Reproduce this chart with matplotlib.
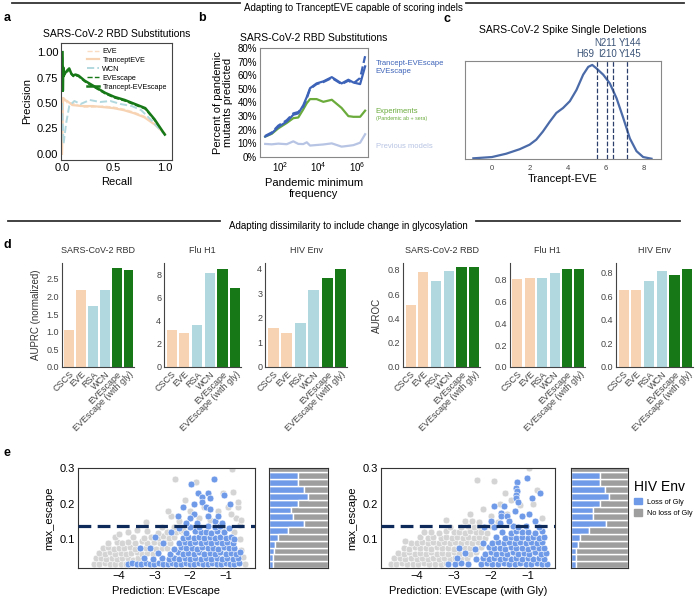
import numpy as np
import matplotlib.pyplot as plt
from matplotlib.patches import Patch

plt.rcParams['font.family'] = ['Liberation Sans', 'DejaVu Sans']
plt.rcParams['axes.linewidth'] = 0.8

W, H = 697, 603

# ---- panel a: precision / recall ----
rec_eve = [0.0, 0.01, 0.02, 0.05, 0.1, 0.2, 0.3, 0.4, 0.5, 0.6, 0.7, 0.8, 0.9, 1.0]
prec_eve = [0.0, 0.5, 0.56, 0.5, 0.5, 0.46, 0.46, 0.47, 0.46, 0.44, 0.41, 0.37, 0.3, 0.2]
prec_tev = [0.0, 0.55, 0.53, 0.52, 0.48, 0.47, 0.47, 0.46, 0.45, 0.43, 0.40, 0.36, 0.29, 0.2]
rec_wcn = [0.0, 0.015, 0.04, 0.07, 0.12, 0.18, 0.27, 0.37, 0.47, 0.57, 0.68, 0.77, 0.87, 0.97, 1.0]
prec_wcn = [0.5, 0.1, 0.3, 0.47, 0.52, 0.49, 0.53, 0.51, 0.52, 0.49, 0.47, 0.43, 0.33, 0.22, 0.19]
rec_esc = [0.005, 0.008, 0.012, 0.02, 0.035, 0.05, 0.07, 0.09, 0.11, 0.13, 0.16, 0.22,
           0.32, 0.42, 0.51, 0.61, 0.71, 0.81, 0.9, 1.0]
prec_tesc = [1.0, 0.62, 0.85, 0.78, 0.8, 0.82, 0.84, 0.79, 0.77, 0.78, 0.77, 0.72,
             0.66, 0.6, 0.56, 0.53, 0.49, 0.45, 0.34, 0.19]
prec_esc = [0.95, 0.6, 0.8, 0.76, 0.8, 0.8, 0.83, 0.78, 0.76, 0.77, 0.76, 0.71,
            0.65, 0.59, 0.55, 0.52, 0.48, 0.44, 0.33, 0.19]

# ---- panel b: pandemic mutants predicted ----
freq = [17, 37, 81, 224, 490, 890, 1620, 2450, 3630, 7940, 17800, 49000,
        158000, 355000, 646000, 1450000, 2630000]
pct_tesc = [15, 17.4, 22, 26, 31, 32, 38, 44, 50.5, 54, 55.5, 58.6, 54, 56.7, 54.7, 53.5, 66.5]
pct_esc = [15.5, 18, 23, 27, 32, 33, 37, 43, 50, 53.5, 55, 58, 53.5, 56, 54, 58, 74]
pct_exp = [15, 17, 21, 25, 28.5, 29, 35, 39.5, 42.5, 42.5, 40.5, 42, 36, 30, 29.5, 29.5, 34]
pct_prev = [9.6, 9.3, 9.8, 9.4, 11.5, 9.6, 9.5, 10.8, 8.4, 8.8, 9.2, 10, 7.6, 8.2, 8.7, 10.5, 16.7]

# ---- panel c: single deletion score density ----
kde_x = [-0.98, 0.0, 0.75, 1.46, 1.98, 2.33, 2.68, 3.04, 3.39, 3.74, 4.1, 4.45, 4.8,
         5.07, 5.28, 5.5, 5.86, 6.21, 6.56, 6.91, 7.26, 7.61, 7.96, 8.4]
kde_y = [0.007, 0.02, 0.054, 0.10, 0.146, 0.197, 0.28, 0.38, 0.47, 0.52, 0.59, 0.705, 0.86,
         0.94, 0.96, 0.925, 0.86, 0.77, 0.62, 0.42, 0.21, 0.08, 0.02, 0.003]
del_pos = [5.51, 6.04, 6.35, 7.12]

# ---- panel d: bar metrics ----
methods = ['CSCS', 'EVE', 'RSA', 'WCN', 'EVEscape', 'EVEscape (with gly)']
viruses = ['SARS-CoV-2 RBD', 'Flu H1', 'HIV Env']
auprc = [[1.05, 2.18, 1.72, 2.18, 2.8, 2.75],
         [3.2, 2.95, 3.6, 8.1, 8.45, 6.85],
         [1.6, 1.4, 1.78, 3.12, 3.62, 4.0]]
auroc = [[0.51, 0.78, 0.71, 0.79, 0.82, 0.82],
         [0.80, 0.81, 0.81, 0.86, 0.89, 0.89],
         [0.65, 0.65, 0.73, 0.81, 0.78, 0.83]]

# ---- panel e: HIV Env scatter (x = prediction, y = max_escape) ----
e1_gray = [
    (-4.7, .03), (-4.55, .028), (-4.4, .031), (-4.25, .029), (-4.1, .03), (-3.95, .028), (-3.8, .03),
    (-4.65, .045), (-4.5, .047), (-4.35, .044), (-4.2, .046), (-4.05, .043), (-3.9, .047),
    (-3.75, .045), (-3.6, .042), (-3.45, .046), (-3.3, .044),
    (-4.55, .06), (-4.4, .058), (-4.25, .062), (-4.1, .059), (-3.95, .061), (-3.8, .057), (-3.65, .06),
    (-3.5, .063), (-3.35, .058), (-3.2, .061), (-3.05, .059), (-2.9, .062),
    (-4.45, .075), (-4.3, .077), (-4.15, .073), (-4.0, .076), (-3.85, .074), (-3.7, .078),
    (-3.55, .073), (-3.4, .076), (-3.25, .074), (-3.1, .077), (-2.95, .073), (-2.8, .076), (-2.65, .074),
    (-4.3, .09), (-4.05, .092), (-3.9, .088), (-3.75, .091), (-3.55, .089), (-3.35, .093), (-3.2, .088),
    (-3.0, .091), (-2.85, .089), (-2.7, .092), (-2.55, .088),
    (-4.1, .105), (-3.6, .107), (-3.3, .103), (-3.1, .106), (-2.9, .104), (-2.75, .108),
    (-2.6, .103), (-2.45, .106),
    (-3.75, .12), (-3.2, .122), (-2.9, .118), (-2.65, .121), (-2.4, .119), (-2.25, .122),
    (-4.0, .115), (-3.5, .125), (-2.8, .135),
    (-0.45, .03), (-0.5, .05), (-0.55, .07), (-0.6, .1), (-0.75, .12), (-0.6, .14), (-0.7, .16),
    (-0.55, .155), (-0.85, .17), (-0.65, .19), (-0.93, .19), (-0.64, .205), (-0.78, .233),
    (-1.06, .229), (-0.83, .299),
    (-2.42, .269), (-1.83, .262), (-2.14, .21), (-2.52, .166), (-2.61, .18), (-3.24, .149),
    (-2.3, .15), (-2.0, .18), (-1.6, .19), (-1.2, .18), (-1.45, .155), (-1.75, .16),
    (-2.45, .135), (-2.2, .125), (-1.1, .13), (-0.9, .1), (-1.3, .09)]
e1_blue = [
    (-3.75, .03), (-3.62, .031), (-3.5, .03), (-3.38, .03), (-3.25, .031), (-3.12, .03), (-3.0, .03),
    (-2.88, .031), (-2.75, .03), (-2.62, .03), (-2.5, .031), (-2.38, .03), (-2.25, .03), (-2.12, .031),
    (-2.0, .03), (-1.88, .03), (-1.75, .031), (-1.62, .03), (-1.5, .03), (-1.38, .031), (-1.25, .03),
    (-1.12, .03), (-1.0, .031), (-0.88, .03), (-0.75, .03), (-0.62, .031),
    (-3.3, .045), (-3.05, .044), (-2.8, .046), (-2.6, .043), (-2.45, .047), (-2.3, .044), (-2.15, .046),
    (-2.0, .043), (-1.85, .047), (-1.7, .044), (-1.55, .046), (-1.4, .043), (-1.25, .047), (-1.1, .044),
    (-0.95, .046), (-0.8, .044), (-0.65, .046),
    (-2.9, .06), (-2.55, .058), (-2.35, .062), (-2.2, .059), (-2.05, .061), (-1.9, .058), (-1.75, .062),
    (-1.6, .059), (-1.45, .061), (-1.3, .058), (-1.15, .062), (-1.0, .059), (-0.85, .061), (-0.7, .058),
    (-0.6, .062),
    (-3.13, .075), (-2.45, .073), (-2.25, .077), (-2.1, .074), (-1.95, .076), (-1.8, .073),
    (-1.65, .077), (-1.5, .074), (-1.35, .076), (-1.2, .073), (-1.05, .077), (-0.9, .074), (-0.75, .076),
    (-2.76, .09), (-2.3, .088), (-2.15, .092), (-2.0, .089), (-1.85, .091), (-1.7, .088), (-1.55, .092),
    (-1.4, .089), (-1.25, .091), (-1.1, .088), (-0.95, .092), (-0.8, .089),
    (-2.98, .105), (-2.2, .103), (-2.05, .107), (-1.9, .104), (-1.75, .106), (-1.6, .103),
    (-1.45, .107), (-1.3, .104), (-1.15, .106), (-1.0, .103), (-0.85, .107),
    (-2.52, .12), (-2.1, .118), (-1.85, .122), (-1.7, .119), (-1.55, .121), (-1.4, .118), (-1.25, .122),
    (-1.05, .119),
    (-2.0, .135), (-1.75, .133), (-1.5, .137), (-1.3, .134), (-1.15, .136),
    (-3.41, .075), (-1.32, .271), (-1.97, .257), (-1.78, .229), (-1.67, .22), (-1.5, .23),
    (-1.45, .215), (-1.67, .205), (-1.54, .19), (-1.44, .185), (-1.03, .226), (-0.87, .2),
    (-2.19, .19), (-1.9, .2), (-1.9, .17), (-2.33, .165), (-2.0, .16), (-2.1, .145), (-1.8, .145),
    (-1.5, .165), (-1.3, .15), (-1.1, .145), (-1.2, .165), (-2.3, .13), (-0.9, .13), (-0.75, .1)]
e2_gray = [
    (-4.7, .03), (-4.55, .028), (-4.4, .031), (-4.25, .029), (-4.1, .03), (-3.95, .028), (-3.8, .031),
    (-3.65, .029), (-3.5, .03), (-3.35, .028), (-3.2, .031),
    (-4.6, .045), (-4.45, .047), (-4.3, .044), (-4.15, .046), (-4.0, .043), (-3.85, .047),
    (-3.7, .044), (-3.55, .046), (-3.4, .043), (-3.25, .047), (-3.1, .044), (-2.95, .046),
    (-2.8, .044), (-2.65, .046),
    (-4.5, .06), (-4.35, .058), (-4.2, .062), (-4.05, .059), (-3.9, .061), (-3.75, .058), (-3.6, .062),
    (-3.45, .059), (-3.3, .061), (-3.15, .058), (-3.0, .062), (-2.85, .059), (-2.7, .061), (-2.55, .058),
    (-2.4, .062),
    (-4.35, .075), (-4.2, .073), (-4.05, .077), (-3.9, .074), (-3.75, .076), (-3.6, .073),
    (-3.45, .077), (-3.3, .074), (-3.15, .076), (-3.0, .073), (-2.85, .077), (-2.7, .074),
    (-2.55, .076), (-2.4, .073), (-2.25, .077),
    (-4.15, .09), (-4.0, .088), (-3.85, .092), (-3.7, .089), (-3.55, .091), (-3.4, .088), (-3.25, .092),
    (-3.1, .089), (-2.95, .091), (-2.8, .088), (-2.65, .092), (-2.5, .089), (-2.35, .091), (-2.2, .088),
    (-3.9, .105), (-3.7, .103), (-3.55, .107), (-3.35, .104), (-3.2, .106), (-3.05, .103),
    (-2.9, .107), (-2.75, .104), (-2.6, .106), (-2.45, .103), (-2.3, .107), (-2.15, .104),
    (-3.6, .12), (-3.4, .118), (-3.2, .122), (-3.0, .119), (-2.85, .121), (-2.7, .118), (-2.55, .122),
    (-2.4, .119), (-2.25, .121), (-2.1, .118),
    (-3.1, .135), (-2.8, .133), (-2.6, .137), (-2.45, .134), (-2.3, .136), (-2.15, .133), (-2.0, .137),
    (-2.7, .15), (-2.5, .152), (-2.3, .148), (-2.0, .151), (-1.8, .149),
    (-2.37, .268), (-1.91, .263), (-3.2, .155), (-2.55, .17), (-2.2, .185), (-1.75, .2),
    (-1.55, .17), (-1.2, .195), (-0.75, .24), (-0.85, .2), (-0.6, .16), (-0.95, .3),
    (-1.6, .23), (-1.45, .21), (-3.8, .12), (-4.3, .095), (-2.0, .165)]
e2_blue = [
    (-3.14, .03), (-2.95, .03), (-2.8, .031), (-2.6, .03), (-2.25, .03), (-2.1, .031), (-1.95, .03),
    (-1.8, .03), (-1.65, .031), (-1.5, .03), (-1.35, .03), (-1.2, .031), (-1.05, .03), (-0.9, .03),
    (-0.75, .031), (-0.6, .03), (-0.48, .03),
    (-2.9, .045), (-2.4, .043), (-2.2, .047), (-2.05, .044), (-1.9, .046), (-1.75, .043),
    (-1.6, .047), (-1.45, .044), (-1.3, .046), (-1.15, .043), (-1.0, .047), (-0.85, .044),
    (-0.7, .046), (-0.55, .043),
    (-2.7, .06), (-2.15, .058), (-2.0, .062), (-1.85, .059), (-1.7, .061), (-1.55, .058), (-1.4, .062),
    (-1.25, .059), (-1.1, .061), (-0.95, .058), (-0.8, .062), (-0.65, .059), (-0.5, .061),
    (-2.84, .075), (-2.42, .073), (-2.05, .077), (-1.9, .074), (-1.75, .076), (-1.6, .073),
    (-1.45, .077), (-1.3, .074), (-1.15, .076), (-1.0, .073), (-0.85, .077), (-0.7, .074), (-0.55, .076),
    (-2.2, .09), (-1.95, .088), (-1.8, .092), (-1.65, .089), (-1.5, .091), (-1.35, .088), (-1.2, .092),
    (-1.05, .089), (-0.9, .091), (-0.75, .088), (-0.6, .092),
    (-1.85, .105), (-1.6, .103), (-1.45, .107), (-1.3, .104), (-1.15, .106), (-1.0, .103),
    (-0.85, .107), (-0.7, .104), (-0.55, .106),
    (-1.7, .12), (-1.45, .118), (-1.3, .122), (-1.15, .119), (-1.0, .121), (-0.8, .118), (-0.6, .122),
    (-2.19, .135), (-1.9, .133), (-1.4, .137), (-1.25, .134), (-1.05, .136), (-0.7, .133),
    (-1.02, .274), (-1.29, .261), (-1.3, .245), (-1.28, .235), (-1.32, .225), (-1.3, .215),
    (-1.27, .205), (-0.66, .229), (-0.89, .215), (-1.92, .193), (-1.65, .193), (-1.72, .175),
    (-1.72, .165), (-1.55, .165), (-1.35, .18), (-1.15, .165), (-0.95, .17), (-0.8, .15),
    (-2.0, .15), (-1.75, .145), (-1.5, .15)]
# fraction of "Loss of Gly" per max_escape bin, bottom bin first
gly_frac1 = [0.06, 0.07, 0.08, 0.11, 0.15, 0.32, 0.60, 0.40, 0.38, 0.49, 0.66, 0.60, 0.49, 0.49, 0.0]
gly_frac2 = [0.08, 0.08, 0.09, 0.12, 0.15, 0.32, 0.61, 0.39, 0.38, 0.50, 0.67, 0.60, 0.50, 0.50, 0.0]

peach = '#f7d3b3'
lblue = '#b2d8df'
green = '#177817'
sc_blue = '#6f9ae8'
sc_gray = '#d4d4d4'
bar_gray = '#9e9e9e'
spine_c = '#555555'


def box(l, t, r, b):
    return [l / W, 1 - b / H, (r - l) / W, (b - t) / H]


def style(ax, color=spine_c, sides=('left', 'bottom', 'top', 'right')):
    for s in ax.spines:
        ax.spines[s].set_visible(s in sides)
        ax.spines[s].set_color(color)
    ax.tick_params(length=0, pad=2)


fig = plt.figure(figsize=(W / 100, H / 100), dpi=100)

# headers
def header(y, x0, x1, x2, x3, text):
    fig.add_artist(plt.Line2D([x0 / W, x1 / W], [1 - y / H] * 2, color='#333333', lw=1.3))
    fig.add_artist(plt.Line2D([x2 / W, x3 / W], [1 - y / H] * 2, color='#333333', lw=1.3))
    fig.text((x1 + x2) / 2 / W, 1 - (y + 5) / H, text, ha='center', va='center', fontsize=7)

header(3, 12, 240, 466, 684, 'Adapting to TranceptEVE capable of scoring indels')
header(221, 8, 220, 476, 680, 'Adapting dissimilarity to include change in glycosylation')

for lab, x, y in [('a', 4, 18), ('b', 198, 18), ('c', 443, 19), ('d', 4, 245), ('e', 4, 453)]:
    fig.text(x / W, 1 - y / H, lab, fontsize=9, fontweight='bold', va='center')

# ---- a ----
ax = fig.add_axes(box(61, 43, 172, 160))
style(ax, '#444444')
ax.plot(rec_eve, prec_eve, color='#fadcc2', lw=1, ls='--', label='EVE')
ax.plot(rec_eve, prec_tev, color=peach, lw=1.6, label='TranceptEVE')
ax.plot(rec_wcn, prec_wcn, color=lblue, lw=1.4, ls='--', label='WCN')
ax.plot(rec_esc, prec_esc, color=green, lw=1, ls='--', label='EVEscape')
ax.plot(rec_esc, prec_tesc, color=green, lw=1.8, label='Trancept-EVEscape')
ax.set_xlim(-0.01, 1.07)
ax.set_ylim(-0.06, 1.09)
ax.set_xticks([0, 0.5, 1.0])
ax.set_yticks([0, 0.25, 0.5, 0.75, 1.0])
ax.tick_params(labelsize=8)
ax.set_xlabel('Recall', fontsize=8, labelpad=3)
ax.set_ylabel('Precision', fontsize=8, labelpad=3)
ax.set_title('SARS-CoV-2 RBD Substitutions', fontsize=7.5, pad=4)
ax.legend(fontsize=5.2, frameon=False, loc='upper right', handlelength=1.6, labelspacing=0.25,
          borderaxespad=0.3, handletextpad=0.5)

# ---- b ----
ax = fig.add_axes(box(260, 48, 368, 157))
style(ax, '#888888')
ax.plot(freq, pct_prev, color='#b7c4e3', lw=1.6)
ax.plot(freq, pct_exp, color='#6aab3c', lw=1.6)
ax.plot(freq, pct_esc, color='#3d63b8', lw=1.6, ls='--')
ax.plot(freq, pct_tesc, color='#3d63b8', lw=1.6)
ax.set_xscale('log')
ax.set_xlim(10 ** 0.96, 10 ** 6.57)
ax.set_ylim(0, 80)
ax.set_xticks([1e2, 1e4, 1e6])
ax.minorticks_off()
ax.set_yticks(range(0, 81, 10))
ax.set_yticklabels([f'{v}%' for v in range(0, 81, 10)])
ax.tick_params(labelsize=7)
ax.set_xlabel('Pandemic minimum\nfrequency', fontsize=8, labelpad=3, linespacing=1.1)
ax.set_ylabel('Percent of pandemic\nmutants predicted', fontsize=8, labelpad=3, linespacing=1.1)
ax.set_title('SARS-CoV-2 RBD Substitutions', fontsize=7.5, pad=5)
tx = 1.07
ax.text(tx, 0.86, 'Trancept-EVEscape', color='#3d63b8', fontsize=5.5, transform=ax.transAxes, va='center')
ax.text(tx, 0.78, 'EVEscape', color='#3d63b8', fontsize=5.5, transform=ax.transAxes, va='center')
ax.text(tx, 0.42, 'Experiments', color='#6aab3c', fontsize=5.5, transform=ax.transAxes, va='center')
ax.text(tx, 0.35, '(Pandemic ab + sera)', color='#6aab3c', fontsize=3.8, transform=ax.transAxes, va='center')
ax.text(tx, 0.10, 'Previous models', color='#b7c4e3', fontsize=5.5, transform=ax.transAxes, va='center')

# ---- c ----
ax = fig.add_axes(box(465, 61, 661, 159))
style(ax, '#888888')
ax.plot(kde_x, kde_y, color='#4a6aa8', lw=1.6)
for p in del_pos:
    ax.axvline(p, color='#2a3f6b', lw=0.9, ls='--')
ax.set_xlim(-1.42, 8.9)
ax.set_ylim(0, 1.0)
ax.set_yticks([])
ax.set_xticks([0, 2, 4, 6, 8])
ax.tick_params(labelsize=5.5, labelcolor='#444444', pad=4)
ax.set_xlabel('Trancept-EVE', fontsize=8, labelpad=2)
lc = '#3b5478'
ax.text(5.4, 1.02, 'H69', ha='right', va='bottom', fontsize=7, color=lc)
ax.text(6.1, 1.02, 'I210', ha='center', va='bottom', fontsize=7, color=lc)
ax.text(5.95, 1.13, 'N211', ha='center', va='bottom', fontsize=7, color=lc)
ax.text(7.3, 1.02, 'Y145', ha='center', va='bottom', fontsize=7, color=lc)
ax.text(7.3, 1.13, 'Y144', ha='center', va='bottom', fontsize=7, color=lc)
ax.set_title('SARS-CoV-2 Spike Single Deletions', fontsize=7.5, pad=20)

# ---- d ----
bar_cols = [peach, peach, lblue, lblue, green, green]
d_pos = [(62, 134), (164, 241), (265, 347), (403, 480), (510, 585), (616, 693)]
d_data = auprc + auroc
d_ylim = [2.95, 9.0, 4.23, 0.855, 0.947, 0.88]
d_ticks = [[0, 0.5, 1.0, 1.5, 2.0, 2.5], [0, 2, 4, 6, 8], [0, 1, 2, 3, 4],
           [0, 0.2, 0.4, 0.6, 0.8], [0, 0.2, 0.4, 0.6, 0.8], [0, 0.2, 0.4, 0.6, 0.8]]
for i, ((l, r), vals) in enumerate(zip(d_pos, d_data)):
    ax = fig.add_axes(box(l, 263, r, 367))
    style(ax, '#444444', sides=('left', 'bottom'))
    ax.bar(range(6), vals, color=bar_cols, width=0.8)
    ax.set_xlim(-0.6, 5.45)
    ax.set_ylim(0, d_ylim[i])
    ax.set_yticks(d_ticks[i])
    if i in (0, 3, 4, 5):
        ax.set_yticklabels([f'{t:.1f}' for t in d_ticks[i]])
    ax.set_xticks(range(6))
    ax.set_xticklabels(methods, rotation=45, ha='right', rotation_mode='anchor')
    ax.tick_params(labelsize=6.5, labelcolor='#444444')
    ax.set_title(viruses[i % 3], fontsize=6.5, color='#333333', pad=7)
    if i == 0:
        ax.set_ylabel('AUPRC (normalized)', fontsize=7, color='#333333', labelpad=4)
    if i == 3:
        ax.set_ylabel('AUROC', fontsize=7, color='#333333', labelpad=4)

# ---- e ----
e_sets = [(e1_gray, e1_blue, (78, 255), (-5.15, -0.17), 'Prediction: EVEscape', gly_frac1, (269, 328)),
          (e2_gray, e2_blue, (381, 555), (-4.96, -0.26), 'Prediction: EVEscape (with Gly)', gly_frac2, (571, 628))]
for gray_pts, blue_pts, (l, r), xl, xlab, frac, (bl, br) in e_sets:
    ax = fig.add_axes(box(l, 468, r, 568))
    style(ax, '#333333')
    g = np.array(gray_pts)
    b = np.array(blue_pts)
    ax.scatter(g[:, 0], g[:, 1], s=24, color=sc_gray, edgecolor='white', lw=0.4, zorder=2)
    ax.scatter(b[:, 0], b[:, 1], s=24, color=sc_blue, edgecolor='white', lw=0.4, zorder=3)
    ax.axhline(0.137, color='#0e2a5a', lw=2.3, ls=(0, (4, 2)), zorder=4)
    ax.set_xlim(*xl)
    ax.set_ylim(0.018, 0.301)
    ax.set_xticks([-4, -3, -2, -1])
    ax.set_yticks([0.1, 0.2, 0.3])
    ax.tick_params(labelsize=8)
    ax.set_xlabel(xlab, fontsize=8, labelpad=4)
    ax.set_ylabel('max_escape', fontsize=8, labelpad=4)

    bx = fig.add_axes(box(bl, 468, br, 568))
    style(bx, '#333333')
    rows = np.arange(len(frac))
    fr = np.array(frac)
    bx.barh(rows, fr, height=1, color=sc_blue, edgecolor='white', lw=1)
    bx.barh(rows, 1 - fr, left=fr, height=1, color=bar_gray, edgecolor='white', lw=1)
    bx.set_xlim(0, 1)
    bx.set_ylim(-0.5, 14.15)
    bx.set_xticks([])
    bx.set_yticks([])

fig.legend(handles=[Patch(color=sc_blue, label='Loss of Gly'), Patch(color=bar_gray, label='No loss of Gly')],
           title='HIV Env', title_fontsize=10, fontsize=5.3, frameon=False, loc='upper left',
           bbox_to_anchor=(632 / W, 1 - 478 / H), handlelength=1.0, handleheight=1.0,
           labelspacing=0.5, alignment='left', borderaxespad=0, borderpad=0.3)

fig.savefig('out.png', dpi=100)
